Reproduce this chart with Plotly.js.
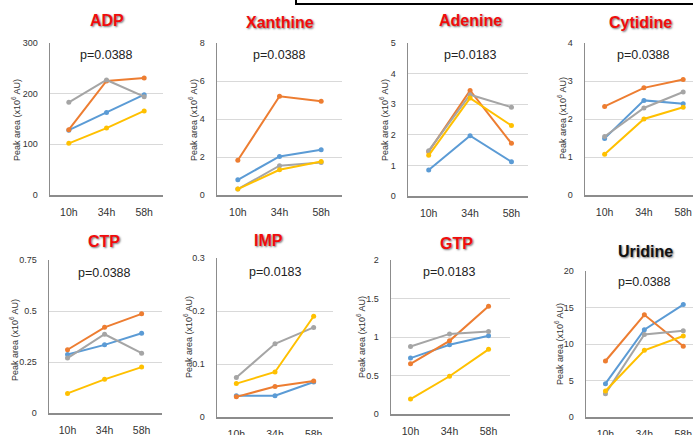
<!DOCTYPE html>
<html>
<head>
<meta charset="utf-8">
<script src="https://cdn.plot.ly/plotly-3.0.1.min.js"></script>
<style>html,body{margin:0;padding:0;background:#fff;}#chart{width:693px;height:435px;}</style>
</head>
<body>
<div id="chart"></div>
<script>
// ---- data ----
const times = ['10h', '34h', '58h'];
const seriesNames = ['Series 1', 'Series 2', 'Series 3', 'Series 4'];
const seriesColors = ['#5B9BD5', '#ED7D31', '#A5A5A5', '#FFC000'];

const compounds = ['ADP', 'Xanthine', 'Adenine', 'Cytidine', 'CTP', 'IMP', 'GTP', 'Uridine'];
const pValues = ['p=0.0388', 'p=0.0388', 'p=0.0183', 'p=0.0388', 'p=0.0388', 'p=0.0183', 'p=0.0183', 'p=0.0388'];
const yMax = [300, 8, 5, 4, 0.75, 0.3, 2, 20];
const yDtick = [100, 2, 1, 1, 0.25, 0.1, 0.5, 5];

// each: [blue, orange, gray, yellow] at 10h, 34h, 58h
const adp      = [[128, 163, 198], [129, 225, 231], [183, 227, 194], [102, 132, 166]];
const xanthine = [[0.80, 2.03, 2.38], [1.83, 5.20, 4.94], [0.31, 1.54, 1.71], [0.31, 1.33, 1.76]];
const adenine  = [[0.85, 1.97, 1.12], [1.45, 3.45, 1.72], [1.48, 3.31, 2.90], [1.33, 3.20, 2.30]];
const cytidine = [[1.49, 2.49, 2.40], [2.33, 2.82, 3.04], [1.54, 2.29, 2.71], [1.07, 2.00, 2.31]];
const ctp      = [[0.287, 0.334, 0.391], [0.310, 0.420, 0.486], [0.269, 0.386, 0.293], [0.096, 0.165, 0.225]];
const imp      = [[0.040, 0.040, 0.066], [0.038, 0.0575, 0.068], [0.0745, 0.138, 0.169], [0.063, 0.085, 0.190]];
const gtp      = [[0.726, 0.90, 1.015], [0.652, 0.95, 1.40], [0.877, 1.04, 1.07], [0.194, 0.49, 0.84]];
const uridine  = [[4.57, 11.96, 15.4], [7.67, 14.0, 9.68], [3.2, 11.3, 11.8], [3.56, 9.13, 11.1]];
const allData = [adp, xanthine, adenine, cytidine, ctp, imp, gtp, uridine];

// ---- layout geometry (pixels) ----
const W = 693, H = 435;
const panels = [
  {x0: 50,  x1: 163, y0: 43,  y1: 195, xr: [-0.5, 2.5],  tx: 107, ty: 21,  px: 55,  ytx: 16,  yty: 120},
  {x0: 217, x1: 342, y0: 43,  y1: 195, xr: [-0.5, 2.5],  tx: 280, ty: 23,  px: 55,  ytx: 193, yty: 120},
  {x0: 408, x1: 528, y0: 43,  y1: 196, xr: [-0.5, 2.4],  tx: 470, ty: 21,  px: 55,  ytx: 384, yty: 120},
  {x0: 585, x1: 693, y0: 43,  y1: 195, xr: [-0.5, 2.25], tx: 640, ty: 23,  px: 55,  ytx: 562, yty: 118},
  {x0: 49,  x1: 162, y0: 260, y1: 413, xr: [-0.5, 2.55], tx: 104, ty: 242, px: 273, ytx: 14,  yty: 340},
  {x0: 217, x1: 333, y0: 258, y1: 417, xr: [-0.5, 2.5],  tx: 268, ty: 240, px: 272, ytx: 188, yty: 337},
  {x0: 391, x1: 510, y0: 260, y1: 414, xr: [-0.5, 2.55], tx: 457, ty: 243, px: 272, ytx: 361, yty: 337},
  {x0: 586, x1: 693, y0: 271, y1: 417, xr: [-0.5, 2.25], tx: 645, ty: 251, px: 282, ytx: 559, yty: 344}
];
const px = v => v / W;
const py = v => 1 - v / H;

const traces = [];
const layout = {
  width: W, height: H,
  margin: {l: 0, r: 0, t: 0, b: 0},
  paper_bgcolor: '#ffffff', plot_bgcolor: '#ffffff',
  showlegend: false,
  font: {family: 'Liberation Sans, Arial, sans-serif', color: '#404040'},
  annotations: [],
  shapes: []
};

compounds.forEach((name, i) => {
  const p = panels[i];
  const n = i + 1;
  const xa = 'x' + (n === 1 ? '' : n);
  const ya = 'y' + (n === 1 ? '' : n);
  const xKey = 'xaxis' + (n === 1 ? '' : n);
  const yKey = 'yaxis' + (n === 1 ? '' : n);

  allData[i].forEach((vals, s) => {
    traces.push({
      type: 'scatter', mode: 'lines+markers',
      x: times, y: vals, name: seriesNames[s],
      xaxis: xa, yaxis: ya,
      line: {color: seriesColors[s], width: 2},
      marker: {color: seriesColors[s], size: 5},
      cliponaxis: false
    });
  });

  layout[xKey] = {
    domain: [px(p.x0), px(p.x1)],
    anchor: ya,
    type: 'category',
    range: p.xr,
    showgrid: false, zeroline: false,
    showline: true, linecolor: '#8c8c8c', linewidth: 1.5,
    ticks: '', ticklabelstandoff: 7,
    tickfont: {size: 10.5, color: '#333333', family: 'Liberation Sans, Arial, sans-serif'},
    fixedrange: true
  };
  layout[yKey] = {
    domain: [py(p.y1), py(p.y0)],
    anchor: xa,
    range: [0, yMax[i]],
    dtick: yDtick[i], tick0: 0,
    showgrid: true, gridcolor: '#d9d9d9', gridwidth: 1,
    zeroline: false,
    showline: true, linecolor: '#8c8c8c', linewidth: 1.5,
    ticks: '', ticklabelstandoff: 9,
    tickfont: {size: 9, color: '#333333', family: 'Liberation Sans, Arial, sans-serif'},
    fixedrange: true
  };

  // panel title
  layout.annotations.push({
    xref: 'paper', yref: 'paper', x: px(p.tx), y: py(p.ty),
    xanchor: 'center', yanchor: 'middle', showarrow: false,
    text: '<b>' + name + '</b>',
    font: {size: 16, color: name === 'Uridine' ? '#111111' : '#f00c0c',
           family: 'Liberation Sans, Arial, sans-serif',
           shadow: '1px 1px 2px rgba(0,0,0,0.55)'}
  });
  // p-value
  layout.annotations.push({
    xref: xa, yref: 'paper', x: 1, y: py(p.px),
    xanchor: 'center', yanchor: 'middle', showarrow: false,
    text: pValues[i],
    font: {size: 12.5, color: '#222222', family: 'Liberation Sans, Arial, sans-serif'}
  });
  // y-axis title
  layout.annotations.push({
    xref: 'paper', yref: 'paper', x: px(p.ytx), y: py(p.yty),
    xanchor: 'center', yanchor: 'middle', showarrow: false,
    textangle: -90,
    text: 'Peak area (x10<sup>6</sup> AU)',
    font: {size: 9, color: '#333333', family: 'Liberation Sans, Arial, sans-serif'}
  });
});

// partial frame box at the top right
layout.shapes.push({
  type: 'rect', xref: 'paper', yref: 'paper',
  x0: px(296), x1: px(705), y0: py(4), y1: py(-10),
  line: {color: '#000000', width: 2}, fillcolor: 'rgba(0,0,0,0)'
});

Plotly.newPlot('chart', traces, layout, {staticPlot: true, displayModeBar: false});
</script>
</body>
</html>
